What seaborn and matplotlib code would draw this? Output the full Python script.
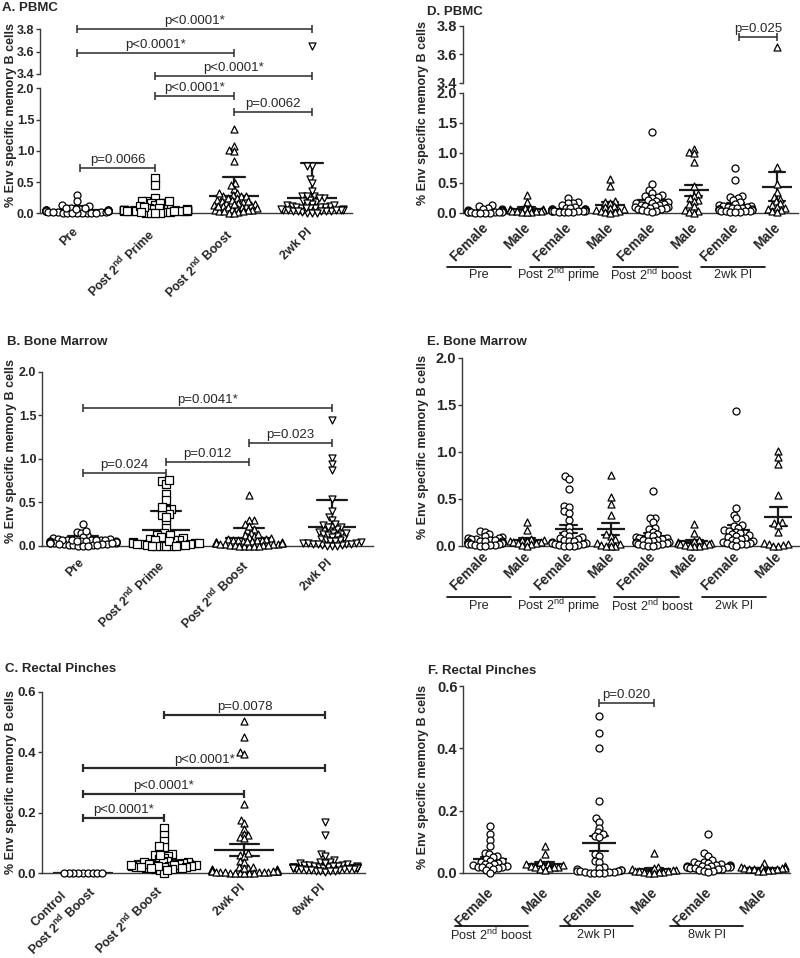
import warnings
import numpy as np
import pandas as pd
import matplotlib
matplotlib.use("Agg")
import matplotlib.pyplot as plt
from matplotlib.transforms import Affine2D, ScaledTranslation
import seaborn as sns

warnings.filterwarnings("ignore")

# PBMC by sex (panel D); panel A pools female + male
pbmc_f_pre = [0.13, 0.12, 0.08, 0.07, 0.06, 0.05, 0.05, 0.04, 0.04, 0.03, 0.03,
              0.03, 0.02, 0.02, 0.02, 0.01, 0.01, 0.01, 0.0, 0.0, 0.0, 0.0]
pbmc_m_pre = [0.30, 0.19, 0.09, 0.08, 0.07, 0.06, 0.05, 0.05, 0.04, 0.04, 0.03,
              0.03, 0.02, 0.02, 0.01]
pbmc_f_prime = [0.25, 0.19, 0.17, 0.16, 0.14, 0.10, 0.09, 0.08, 0.07, 0.07, 0.06,
                0.06, 0.05, 0.05, 0.05, 0.04, 0.04, 0.04, 0.03, 0.03, 0.03, 0.02,
                0.02, 0.01, 0.01]
pbmc_m_prime = [0.57, 0.45, 0.20, 0.19, 0.17, 0.12, 0.10, 0.08, 0.06, 0.05, 0.04,
                0.03, 0.02, 0.01, 0.0]
pbmc_f_boost = [1.35, 0.48, 0.39, 0.33, 0.30, 0.28, 0.27, 0.25, 0.22, 0.20, 0.18,
                0.17, 0.16, 0.15, 0.14, 0.13, 0.12, 0.11, 0.10, 0.10, 0.09, 0.08,
                0.07, 0.06, 0.05, 0.04, 0.03, 0.02]
pbmc_m_boost = [1.07, 1.02, 0.99, 0.84, 0.45, 0.32, 0.28, 0.25, 0.22, 0.20, 0.15,
                0.12, 0.05, 0.03, 0.01, 0.0]
pbmc_f_2wk = [0.75, 0.55, 0.28, 0.27, 0.25, 0.22, 0.18, 0.15, 0.13, 0.12, 0.11,
              0.10, 0.10, 0.09, 0.08, 0.08, 0.07, 0.06, 0.06, 0.05, 0.05, 0.04,
              0.04, 0.03, 0.03, 0.02, 0.01, 0.01]
pbmc_m_2wk = [3.65, 0.76, 0.48, 0.35, 0.27, 0.24, 0.20, 0.16, 0.13, 0.10, 0.08,
              0.07, 0.05, 0.03, 0.01]

# Bone marrow by sex (panel E); panel B pools them
bm_f_pre = [0.16, 0.15, 0.12, 0.10, 0.09, 0.08, 0.08, 0.07, 0.07, 0.06, 0.06,
            0.05, 0.05, 0.05, 0.04, 0.04, 0.04, 0.03, 0.03, 0.03, 0.02, 0.02,
            0.02, 0.01, 0.01, 0.01, 0.0, 0.0]
bm_m_pre = [0.25, 0.17, 0.07, 0.06, 0.06, 0.05, 0.05, 0.04, 0.04, 0.03, 0.03,
            0.02, 0.01, 0.0]
bm_f_prime = [0.74, 0.71, 0.60, 0.42, 0.41, 0.37, 0.35, 0.27, 0.20, 0.15, 0.12,
              0.10, 0.09, 0.08, 0.07, 0.06, 0.05, 0.05, 0.04, 0.03, 0.03, 0.02,
              0.02, 0.01, 0.01, 0.0, 0.0, 0.0]
bm_m_prime = [0.75, 0.52, 0.44, 0.33, 0.12, 0.10, 0.07, 0.05, 0.03, 0.02, 0.01,
              0.0, 0.0, 0.0]
bm_f_boost = [0.58, 0.30, 0.29, 0.25, 0.19, 0.18, 0.15, 0.12, 0.11, 0.10, 0.09,
              0.08, 0.08, 0.07, 0.06, 0.06, 0.05, 0.05, 0.04, 0.04, 0.03, 0.03,
              0.02, 0.02, 0.01, 0.01, 0.0, 0.0]
bm_m_boost = [0.23, 0.13, 0.06, 0.05, 0.04, 0.03, 0.03, 0.02, 0.02, 0.01, 0.01,
              0.0, 0.0, 0.0]
bm_f_2wk = [1.44, 0.40, 0.33, 0.29, 0.22, 0.21, 0.19, 0.17, 0.16, 0.15, 0.14,
            0.13, 0.12, 0.11, 0.10, 0.09, 0.08, 0.07, 0.06, 0.05, 0.05, 0.04,
            0.03, 0.03, 0.02, 0.02, 0.01, 0.0]
bm_m_2wk = [1.01, 0.94, 0.87, 0.54, 0.25, 0.24, 0.22, 0.15, 0.03, 0.02, 0.02,
            0.01, 0.0, 0.0]

# Rectal pinches by sex (panel F); panel C pools them
rp_control = [0.0, 0.0, 0.0, 0.0, 0.0, 0.0, 0.0, 0.0, 0.0]
rp_f_boost = [0.15, 0.125, 0.105, 0.087, 0.063, 0.06, 0.055, 0.05, 0.045, 0.04,
              0.038, 0.035, 0.033, 0.03, 0.028, 0.025, 0.024, 0.022, 0.02, 0.02,
              0.018, 0.015, 0.012, 0.01, 0.0]
rp_m_boost = [0.088, 0.06, 0.035, 0.03, 0.028, 0.025, 0.024, 0.022, 0.02, 0.02,
              0.018, 0.015, 0.012, 0.01]
rp_f_2wk = [0.505, 0.45, 0.40, 0.23, 0.175, 0.165, 0.145, 0.13, 0.125, 0.12,
            0.115, 0.06, 0.055, 0.04, 0.035, 0.02, 0.015, 0.012, 0.01, 0.01,
            0.008, 0.006, 0.005, 0.004, 0.003, 0.002, 0.001, 0.0, 0.0, 0.0]
rp_m_2wk = [0.065, 0.02, 0.015, 0.012, 0.01, 0.01, 0.008, 0.006, 0.005, 0.004,
            0.003, 0.002, 0.001, 0.0]
rp_f_8wk = [0.125, 0.063, 0.055, 0.042, 0.036, 0.035, 0.033, 0.03, 0.028, 0.026,
            0.025, 0.024, 0.023, 0.022, 0.021, 0.02, 0.02, 0.019, 0.018, 0.017,
            0.016, 0.015, 0.014, 0.012, 0.01, 0.008, 0.005, 0.003]
rp_m_8wk = [0.033, 0.022, 0.02, 0.018, 0.017, 0.016, 0.015, 0.014, 0.013, 0.012,
            0.011, 0.01, 0.008, 0.006]
# animals shown only in the pooled panel C
rp_2wk_unsexed = [0.395]
rp_8wk_unsexed = [0.17]

# labels
ylab = "% Env specific memory B cells"
time_ticks = ["Pre", "Post 2$^{\\mathbf{nd}}$ Prime", "Post 2$^{\\mathbf{nd}}$ Boost", "2wk PI"]
rp_ticks = ["Control\nPost 2$^{\\mathbf{nd}}$ Boost", "Post 2$^{\\mathbf{nd}}$ Boost", "2wk PI", "8wk PI"]
sex_ticks = ["Female", "Male"]
time_groups = ["Pre", "Post 2$^{\\mathrm{nd}}$ prime", "Post 2$^{\\mathrm{nd}}$ boost", "2wk PI"]
rp_groups = ["Post 2$^{\\mathrm{nd}}$ boost", "2wk PI", "8wk PI"]

sns.set_style("ticks")
plt.rcParams["font.family"] = ["Liberation Sans", "DejaVu Sans"]
plt.rcParams["mathtext.fontset"] = "custom"
plt.rcParams["mathtext.rm"] = "Liberation Sans"
plt.rcParams["mathtext.bf"] = "Liberation Sans:bold"

AXC = "#3a3a3a"
W, H = 800, 958
fig = plt.figure(figsize=(8, 9.58), dpi=100)


def add_ax(x0, x1, y0, y1):
    return fig.add_axes([x0 / W, 1 - y1 / H, (x1 - x0) / W, (y1 - y0) / H])


def draw_groups(ax, groups, markers, errorbar=None, mean_w=30, capsize=0.3,
                lo=None, hi=None):
    cats = [f"g{i}" for i in range(len(groups))]
    df = pd.DataFrame({"grp": np.repeat(cats, [len(g) for g in groups]),
                       "val": np.concatenate([np.asarray(g, float) for g in groups])})
    sub = df
    if lo is not None:
        sub = sub[sub.val >= lo]
    if hi is not None:
        sub = sub[sub.val < hi]
    for cat, mk in zip(cats, markers):
        pts = sub[sub.grp == cat]
        if len(pts) == 0:
            continue
        n0 = len(ax.collections)
        # swarm laid out with a small marker, drawn larger so dense points overlap
        sns.swarmplot(data=pts, x="grp", y="val", order=cats, marker=mk, size=2.4,
                      color="white", edgecolor="black", linewidth=0.9, ax=ax)
        for c in ax.collections[n0:]:
            c.set_paths([p.transformed(Affine2D().scale(2.1)) for p in c.get_paths()])
            c.set_clip_on(False)
    if errorbar:
        sns.pointplot(data=df, x="grp", y="val", order=cats, errorbar=errorbar,
                      capsize=capsize, color="#1a1a1a", marker="_", markersize=mean_w,
                      markeredgewidth=1.6, linestyle="none",
                      err_kws={"linewidth": 1.6}, ax=ax)
    ax.set_xlabel("")
    ax.set_ylabel("")


def style_y(ax, ylim, yticks, fs):
    ax.set_ylim(*ylim)
    ax.set_yticks(yticks)
    ax.set_yticklabels([f"{t:.1f}" for t in yticks], fontsize=fs, fontweight="bold")
    for s in ["top", "right"]:
        ax.spines[s].set_visible(False)
    for s in ["left", "bottom"]:
        ax.spines[s].set_linewidth(1.0)
        ax.spines[s].set_color(AXC)
    ax.tick_params(axis="y", length=3.2, width=1.0, color=AXC, pad=0.8)


def style_x(ax, xlim, labels, fs, pad, dx=0):
    ax.set_xlim(*xlim)
    ax.set_xticks(range(len(labels)))
    ax.set_xticklabels(labels, rotation=45, ha="right", fontsize=fs,
                       fontweight="bold", multialignment="center")
    ax.tick_params(axis="x", length=0, pad=pad)
    if dx:
        shift = ScaledTranslation(dx / 100, 0, fig.dpi_scale_trans)
        for lbl in ax.get_xticklabels():
            lbl.set_transform(lbl.get_transform() + shift)


def top_only(ax, xlim):
    ax.set_xlim(*xlim)
    ax.spines["bottom"].set_visible(False)
    ax.set_xticks([])
    ax.set_xlabel("")


def bracket(ax, x1, x2, y, text, lw=1.1):
    ax.plot([x1, x2], [y, y], color="#2a2a2a", lw=lw, clip_on=False,
            solid_capstyle="butt")
    ax.plot([x1, x2], [y, y], color="#2a2a2a", ls="none", marker="|", ms=6,
            mew=lw, clip_on=False)
    ax.annotate(text, xy=((x1 + x2) / 2, y), xytext=(0, 1.5),
                textcoords="offset points", ha="center", va="bottom",
                fontsize=9.5, annotation_clip=False)


def group_lines(ax, spans, names, text_x, y_line, y_text):
    tr = ax.get_xaxis_transform()
    for (x1, x2), name, tx in zip(spans, names, text_x):
        ax.plot([x1, x2], [y_line, y_line], transform=tr, color="black", lw=1.2,
                clip_on=False)
        ax.text(tx, y_text, name, transform=tr, ha="center", va="center",
                fontsize=9.2)


def label(x, y, text, **kw):
    fig.text(x / W, 1 - y / H, text, **kw)


# ---------- A. PBMC ----------
pbmc_time = [pbmc_f_pre + pbmc_m_pre, pbmc_f_prime + pbmc_m_prime,
             pbmc_f_boost + pbmc_m_boost, pbmc_f_2wk + pbmc_m_2wk]
xa = (-0.473, 3.512)
axA_t = add_ax(40, 352, 29, 74)
draw_groups(axA_t, pbmc_time, ["o", "s", "^", "v"], lo=3.4)
style_y(axA_t, (3.4, 3.8), [3.4, 3.6, 3.8], 9)
top_only(axA_t, xa)
axA = add_ax(40, 352, 88.3, 213.3)
draw_groups(axA, pbmc_time, ["o", "s", "^", "v"], "sd", 36, 0.28, hi=3.4)
style_y(axA, (0, 2.0), [0, 0.5, 1.0, 1.5, 2.0], 9)
style_x(axA, xa, time_ticks, 9, 9, dx=3)
bracket(axA_t, 0, 3, 3.80, "p<0.0001*")
bracket(axA_t, 0, 2, 3.587, "p<0.0001*")
bracket(axA, 1, 3, 2.19, "p<0.0001*")
bracket(axA, 1, 2, 1.87, "p<0.0001*")
bracket(axA, 2, 3, 1.62, "p=0.0062")
bracket(axA, 0.04, 1, 0.72, "p=0.0066")

# ---------- D. PBMC by sex ----------
pbmc_sex = [pbmc_f_pre, pbmc_m_pre, pbmc_f_prime, pbmc_m_prime,
            pbmc_f_boost, pbmc_m_boost, pbmc_f_2wk, pbmc_m_2wk]
sex_marks = ["o", "^"] * 4
sex_spans = [(-0.91, 0.62), (1.08, 2.62), (3.08, 4.62), (5.18, 6.72)]
sex_text_x = [-0.15, 1.77, 4.0, 5.95]
xd = (-0.528, 7.506)
axD_t = add_ax(463, 798, 25.7, 82.7)
draw_groups(axD_t, pbmc_sex, sex_marks, lo=3.4)
style_y(axD_t, (3.4, 3.8), [3.4, 3.6, 3.8], 10.5)
top_only(axD_t, xd)
axD = add_ax(463, 798, 92.7, 213)
draw_groups(axD, pbmc_sex, sex_marks, "se", 22, 0.4, hi=3.4)
style_y(axD, (0, 2.0), [0, 0.5, 1.0, 1.5, 2.0], 10.5)
style_x(axD, xd, sex_ticks * 4, 10, 5.5, dx=6)
bracket(axD_t, 6.1, 7.0, 3.72, "p=0.025")
group_lines(axD, sex_spans, time_groups, sex_text_x, -0.449, -0.515)

# ---------- B. Bone Marrow ----------
bm_time = [bm_f_pre + bm_m_pre, bm_f_prime + bm_m_prime,
           bm_f_boost + bm_m_boost, bm_f_2wk + bm_m_2wk]
axB = add_ax(42, 373, 371.7, 545.7)
draw_groups(axB, bm_time, ["o", "s", "^", "v"], "sd", 34, 0.35)
style_y(axB, (0, 2.0), [0, 0.5, 1.0, 1.5, 2.0], 9)
style_x(axB, (-0.494, 3.494), time_ticks, 9, 8, dx=3)
bracket(axB, 0, 3, 1.586, "p=0.0041*")
bracket(axB, 2, 3, 1.18, "p=0.023")
bracket(axB, 1, 2, 0.965, "p=0.012")
bracket(axB, 0, 1, 0.835, "p=0.024")

# ---------- E. Bone Marrow by sex ----------
bm_sex = [bm_f_pre, bm_m_pre, bm_f_prime, bm_m_prime,
          bm_f_boost, bm_m_boost, bm_f_2wk, bm_m_2wk]
axE = add_ax(462, 800, 358, 545.7)
draw_groups(axE, bm_sex, sex_marks, "se", 20, 0.4)
style_y(axE, (0, 2.0), [0, 0.5, 1.0, 1.5, 2.0], 10.5)
style_x(axE, (-0.549, 7.52), sex_ticks * 4, 10, 3, dx=6)
group_lines(axE, sex_spans, time_groups, sex_text_x, -0.273, -0.321)

# ---------- C. Rectal Pinches ----------
rp_time = [rp_control, rp_f_boost + rp_m_boost,
           rp_f_2wk + rp_m_2wk + rp_2wk_unsexed, rp_f_8wk + rp_m_8wk + rp_8wk_unsexed]
axC = add_ax(42, 365, 692, 873)
draw_groups(axC, rp_time, ["o", "s", "^", "v"], "se", 43, 0.35)
style_y(axC, (0, 0.6), [0, 0.2, 0.4, 0.6], 9.5)
style_x(axC, (-0.508, 3.494), rp_ticks, 9, 6.5, dx=3)
first = axC.get_xticklabels()[0]
first.set_transform(first.get_transform()
                    + ScaledTranslation(0.13, 0.09, fig.dpi_scale_trans))
bracket(axC, 1, 3, 0.524, "p=0.0078", lw=1.6)
bracket(axC, 0, 3, 0.348, "p<0.0001*", lw=1.6)
bracket(axC, 0, 2, 0.262, "p<0.0001*", lw=1.6)
bracket(axC, 0, 1, 0.182, "p<0.0001*", lw=1.6)

# ---------- F. Rectal Pinches by sex ----------
rp_sex = [rp_f_boost, rp_m_boost, rp_f_2wk, rp_m_2wk, rp_f_8wk, rp_m_8wk]
axF = add_ax(463, 790, 686, 873)
draw_groups(axF, rp_sex, ["o", "^"] * 3, "se", 25, 0.34)
style_y(axF, (0, 0.6), [0, 0.2, 0.4, 0.6], 10.5)
style_x(axF, (-0.495, 5.495), sex_ticks * 3, 10, 9, dx=6)
bracket(axF, 2, 3, 0.545, "p=0.020")
group_lines(axF, [(-0.64, 0.70), (1.28, 2.62), (3.30, 4.64)], rp_groups,
            [0.03, 1.95, 3.97], -0.283, -0.332)

# titles and y labels
for x, y, t in [(2, 2, "A. PBMC"), (427, 6, "D. PBMC"), (7, 336, "B. Bone Marrow"),
                (427, 336, "E. Bone Marrow"), (5, 663, "C. Rectal Pinches"),
                (428, 665, "F. Rectal Pinches")]:
    label(x, y, t, ha="left", va="top", fontsize=9.5, fontweight="bold")
for x, y in [(11, 115), (423, 113), (11, 451), (423, 447), (11, 782), (423, 777)]:
    label(x, y, ylab, ha="center", va="center", rotation=90, fontsize=9,
          fontweight="bold")

fig.savefig("out.png", dpi=100)
